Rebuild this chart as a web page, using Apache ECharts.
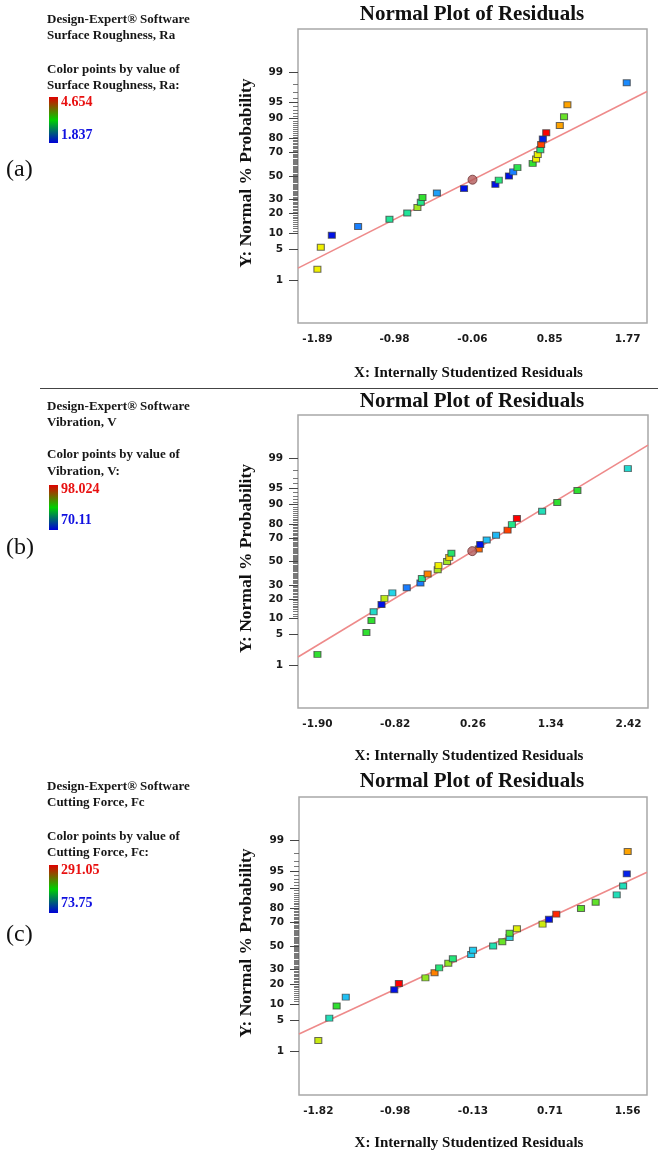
<!DOCTYPE html>
<html><head><meta charset="utf-8">
<script src="https://cdn.jsdelivr.net/npm/echarts@6/dist/echarts.min.js"></script>
<style>html,body{margin:0;padding:0;background:#fff}#c{width:658px;height:1151px}</style>
</head><body><div id="c"></div>
<script>
// ---------- data ----------
// normal % probability of each ranked residual (same 27 ranks in every panel)
const normalPct = [1.85, 5.56, 9.26, 12.96, 16.67, 20.37, 24.07, 27.78, 31.48, 35.19, 38.89, 42.59, 46.30, 50.00,
  53.70, 57.41, 61.11, 64.81, 68.52, 72.22, 75.93, 79.63, 83.33, 87.04, 90.74, 94.44, 98.15];

// (a) Surface Roughness, Ra
const residA = [-1.89, -1.85, -1.72, -1.41, -1.04, -0.83, -0.71, -0.67, -0.65, -0.48, -0.16, 0.21, 0.25, 0.37,
  0.42, 0.47, 0.65, 0.69, 0.71, 0.74, 0.75, 0.77, 0.81, 0.97, 1.02, 1.06, 1.76];
const valueA = [3.95, 3.95, 1.84, 2.19, 2.85, 2.85, 3.58, 2.91, 3.25, 2.32, 1.84, 1.84, 2.96, 1.84,
  2.19, 3.13, 3.25, 3.95, 3.92, 2.96, 4.51, 1.89, 4.65, 4.29, 3.41, 4.29, 2.23];
const handleA = [-0.06, 46.7];
const fitA = [[-2.119, 1.96], [1.999, 97.06]];
const xTicksA = [-1.89, -0.98, -0.06, 0.85, 1.77];

// (b) Vibration, V
const residB = [-1.90, -1.22, -1.15, -1.12, -1.01, -0.97, -0.86, -0.66, -0.47, -0.45, -0.37, -0.23, -0.22, -0.10,
  -0.07, -0.04, 0.34, 0.36, 0.45, 0.58, 0.74, 0.80, 0.87, 1.22, 1.43, 1.71, 2.41];
const valueB = [84.07, 84.07, 84.07, 78.48, 70.11, 88.53, 77.37, 73.46, 73.46, 80.72, 95.23, 87.70, 91.05, 87.42,
  92.44, 81.83, 95.79, 70.11, 76.25, 75.97, 96.63, 80.72, 98.02, 79.04, 84.07, 84.07, 78.20];
const handleB = [0.25, 59.2];
const fitB = [[-2.17, 1.60], [2.69, 99.55]];
const xTicksB = [-1.90, -0.82, 0.26, 1.34, 2.42];

// (c) Cutting Force, Fc
const residC = [-1.82, -1.70, -1.62, -1.52, -0.99, -0.94, -0.65, -0.55, -0.50, -0.40, -0.35, -0.15, -0.13, 0.09,
  0.19, 0.27, 0.27, 0.35, 0.63, 0.70, 0.78, 1.05, 1.21, 1.44, 1.51, 1.55, 1.56];
const valueC = [221.5, 143.3, 182.4, 121.6, 73.75, 291.05, 204.1, 269.3, 160.7, 204.1, 160.7, 125.9, 125.9, 145.5,
  195.4, 132.4, 191.1, 230.2, 223.7, 73.75, 284.5, 193.3, 193.3, 143.3, 143.3, 78.1, 262.8];
const fitC = [[-2.031, 2.59], [1.771, 94.82]];
const xTicksC = [-1.82, -0.98, -0.13, 0.71, 1.56];

const probTicks = [1, 5, 10, 20, 30, 50, 70, 80, 90, 95, 99];

// ---------- probability (probit) scale ----------
function probit(p) {
  const a=[-3.969683028665376e+01,2.209460984245205e+02,-2.759285104469687e+02,1.383577518672690e+02,-3.066479806614716e+01,2.506628277459239e+00];
  const b=[-5.447609879822406e+01,1.615858368580409e+02,-1.556989798598866e+02,6.680131188771972e+01,-1.328068155288572e+01];
  const c=[-7.784894002430293e-03,-3.223964580411365e-01,-2.400758277161838e+00,-2.549732539343734e+00,4.374664141464968e+00,2.938163982698783e+00];
  const d=[7.784695709041462e-03,3.224671290700398e-01,2.445134137142996e+00,3.754408661907416e+00];
  const pl=0.02425, ph=1-pl; let q, r;
  if (p < pl) { q=Math.sqrt(-2*Math.log(p)); return (((((c[0]*q+c[1])*q+c[2])*q+c[3])*q+c[4])*q+c[5])/((((d[0]*q+d[1])*q+d[2])*q+d[3])*q+1); }
  if (p <= ph) { q=p-0.5; r=q*q; return (((((a[0]*r+a[1])*r+a[2])*r+a[3])*r+a[4])*r+a[5])*q/(((((b[0]*r+b[1])*r+b[2])*r+b[3])*r+b[4])*r+1); }
  q=Math.sqrt(-2*Math.log(1-p)); return -(((((c[0]*q+c[1])*q+c[2])*q+c[3])*q+c[4])*q+c[5])/((((d[0]*q+d[1])*q+d[2])*q+d[3])*q+1);
}
const zOf = pct => probit(pct / 100);
const majorZ = probTicks.map(zOf);
const minorPct = [];
for (let k = 11; k <= 98; k++) if (probTicks.indexOf(k) < 0) minorPct.push(k);
const minorZ = minorPct.map(zOf);
const Z_RANGE = 3.29;

const rainbow = ['#0010e6','#1a80ff','#22d4f0','#22e68c','#30e030','#a8e620','#f0f000','#ffa000','#ff0000'];

const panels = [
  { resid: residA, val: valueA, handle: handleA, fit: fitA, xTicks: xTicksA, xMin: -2.119, xMax: 1.999,
    vmin: 1.837, vmax: 4.654, grid: {left: 298, top: 29, width: 349, height: 294},
    titleY: 15, xTitleY: 373, letter: '(a)', letterY: 170,
    leg: ['Design-Expert® Software', 'Surface Roughness, Ra', 'Color points by value of', 'Surface Roughness, Ra:'],
    legY: [20, 36, 70, 86], barTop: 97, barBot: 143, hi: '4.654', lo: '1.837', hiY: 102, loY: 135 },
  { resid: residB, val: valueB, handle: handleB, fit: fitB, xTicks: xTicksB, xMin: -2.17, xMax: 2.69,
    vmin: 70.11, vmax: 98.024, grid: {left: 298, top: 415, width: 350, height: 293},
    titleY: 402, xTitleY: 756, letter: '(b)', letterY: 548,
    leg: ['Design-Expert® Software', 'Vibration, V', 'Color points by value of', 'Vibration, V:'],
    legY: [407, 423, 455, 472], barTop: 485, barBot: 530, hi: '98.024', lo: '70.11', hiY: 489, loY: 520 },
  { resid: residC, val: valueC, handle: null, fit: fitC, xTicks: xTicksC, xMin: -2.031, xMax: 1.771,
    vmin: 73.75, vmax: 291.05, grid: {left: 299, top: 797, width: 348, height: 298},
    titleY: 782, xTitleY: 1143, letter: '(c)', letterY: 935,
    leg: ['Design-Expert® Software', 'Cutting Force, Fc', 'Color points by value of', 'Cutting Force, Fc:'],
    legY: [787, 803, 837, 853], barTop: 865, barBot: 913, hi: '291.05', lo: '73.75', hiY: 870, loY: 903 }
];

const grids = [], xAxes = [], yAxes = [], series = [], visualMaps = [], graphics = [];
const tickFont = {fontFamily: 'DejaVu Sans', fontWeight: 'bold', fontSize: 10.5, color: '#1a1a1a'};

panels.forEach((P, i) => {
  grids.push(Object.assign({show: true, borderColor: '#a8a8a8', borderWidth: 1.5, backgroundColor: '#fff'}, P.grid));
  xAxes.push({
    gridIndex: i, type: 'value', min: P.xMin, max: P.xMax, position: 'bottom',
    axisLine: {show: false, onZero: false}, splitLine: {show: false}, axisTick: {show: false},
    axisLabel: Object.assign({customValues: P.xTicks, margin: 11, formatter: v => v.toFixed(2)}, tickFont)
  });
  yAxes.push({
    gridIndex: i, type: 'value', min: -Z_RANGE, max: Z_RANGE, position: 'left',
    axisLine: {show: false, onZero: false}, splitLine: {show: false},
    axisTick: {show: true, customValues: majorZ, length: 9, lineStyle: {color: '#444', width: 1}},
    axisLabel: Object.assign({customValues: majorZ, margin: 15, formatter: v => {
      let best = 0; majorZ.forEach((z, k) => { if (Math.abs(z - v) < Math.abs(majorZ[best] - v)) best = k; });
      return String(probTicks[best]);
    }}, tickFont)
  });
  yAxes.push({
    gridIndex: i, type: 'value', min: -Z_RANGE, max: Z_RANGE, position: 'left', offset: 0,
    axisLine: {show: false, onZero: false}, splitLine: {show: false}, axisLabel: {show: false},
    axisTick: {show: true, customValues: minorZ, length: 5, lineStyle: {color: '#555', width: 0.8}}
  });
  const xi = i, yi = 2 * i;
  series.push({
    type: 'line', xAxisIndex: xi, yAxisIndex: yi, symbol: 'none', silent: true, clip: true, z: 2,
    lineStyle: {color: '#ee8a8a', width: 1.6},
    data: P.fit.map(p => [p[0], zOf(p[1])])
  });
  const ptsIndex = series.length;
  series.push({
    type: 'scatter', xAxisIndex: xi, yAxisIndex: yi, symbol: 'rect', symbolSize: [7, 6], z: 3,
    itemStyle: {borderColor: 'rgba(60,60,60,0.75)', borderWidth: 1, opacity: 1},
    data: P.resid.map((x, k) => [x, zOf(normalPct[k]), P.val[k]])
  });
  visualMaps.push({type: 'continuous', show: false, seriesIndex: ptsIndex, dimension: 2,
    min: P.vmin, max: P.vmax, inRange: {color: rainbow}});
  if (P.handle) {
    series.push({
      type: 'scatter', xAxisIndex: xi, yAxisIndex: yi, symbol: 'circle', symbolSize: 9, z: 4,
      itemStyle: {color: '#b35a5a', borderColor: '#6e3434', borderWidth: 1},
      data: [[P.handle[0], zOf(P.handle[1])]]
    });
  }
  const cx = P.grid.left + P.grid.width / 2;
  const cy = P.grid.top + P.grid.height / 2;
  graphics.push({type: 'text', x: 472, y: P.titleY, style: {text: 'Normal Plot of Residuals',
    font: 'bold 21px "Liberation Serif"', fill: '#111', textAlign: 'center', textVerticalAlign: 'middle'}});
  graphics.push({type: 'text', x: cx - 4, y: P.xTitleY, style: {text: 'X: Internally Studentized Residuals',
    font: 'bold 15px "Liberation Serif"', fill: '#111', textAlign: 'center', textVerticalAlign: 'middle'}});
  graphics.push({type: 'text', x: 246, y: cy - 3, rotation: Math.PI / 2, style: {text: 'Y: Normal % Probability',
    font: 'bold 17.5px "Liberation Serif"', fill: '#111', textAlign: 'center', textVerticalAlign: 'middle'}});
  graphics.push({type: 'text', x: 6, y: P.letterY, style: {text: P.letter,
    font: '24px "Liberation Serif"', fill: '#111', textAlign: 'left', textVerticalAlign: 'middle'}});
  P.leg.forEach((t, k) => graphics.push({type: 'text', x: 47, y: P.legY[k], style: {text: t,
    font: 'bold 13px "Liberation Serif"', fill: '#161616', textAlign: 'left', textVerticalAlign: 'middle'}}));
  graphics.push({type: 'rect', shape: {x: 49, y: P.barTop, width: 9, height: P.barBot - P.barTop},
    style: {fill: new echarts.graphic.LinearGradient(0, 0, 0, 1, [
      {offset: 0, color: '#e00000'}, {offset: 0.5, color: '#00d000'}, {offset: 1, color: '#0000d8'}])}});
  graphics.push({type: 'text', x: 61, y: P.hiY, style: {text: P.hi,
    font: 'bold 14px "Liberation Serif"', fill: '#e81010', textAlign: 'left', textVerticalAlign: 'middle'}});
  graphics.push({type: 'text', x: 61, y: P.loY, style: {text: P.lo,
    font: 'bold 14px "Liberation Serif"', fill: '#1010e0', textAlign: 'left', textVerticalAlign: 'middle'}});
});
graphics.push({type: 'line', shape: {x1: 40, y1: 388.5, x2: 658, y2: 388.5}, style: {stroke: '#444', lineWidth: 1}});

const chart = echarts.init(document.getElementById('c'), null, {renderer: 'canvas'});
chart.setOption({
  backgroundColor: '#fff', animation: false,
  grid: grids, xAxis: xAxes, yAxis: yAxes, series: series, visualMap: visualMaps, graphic: graphics
});
</script></body></html>
